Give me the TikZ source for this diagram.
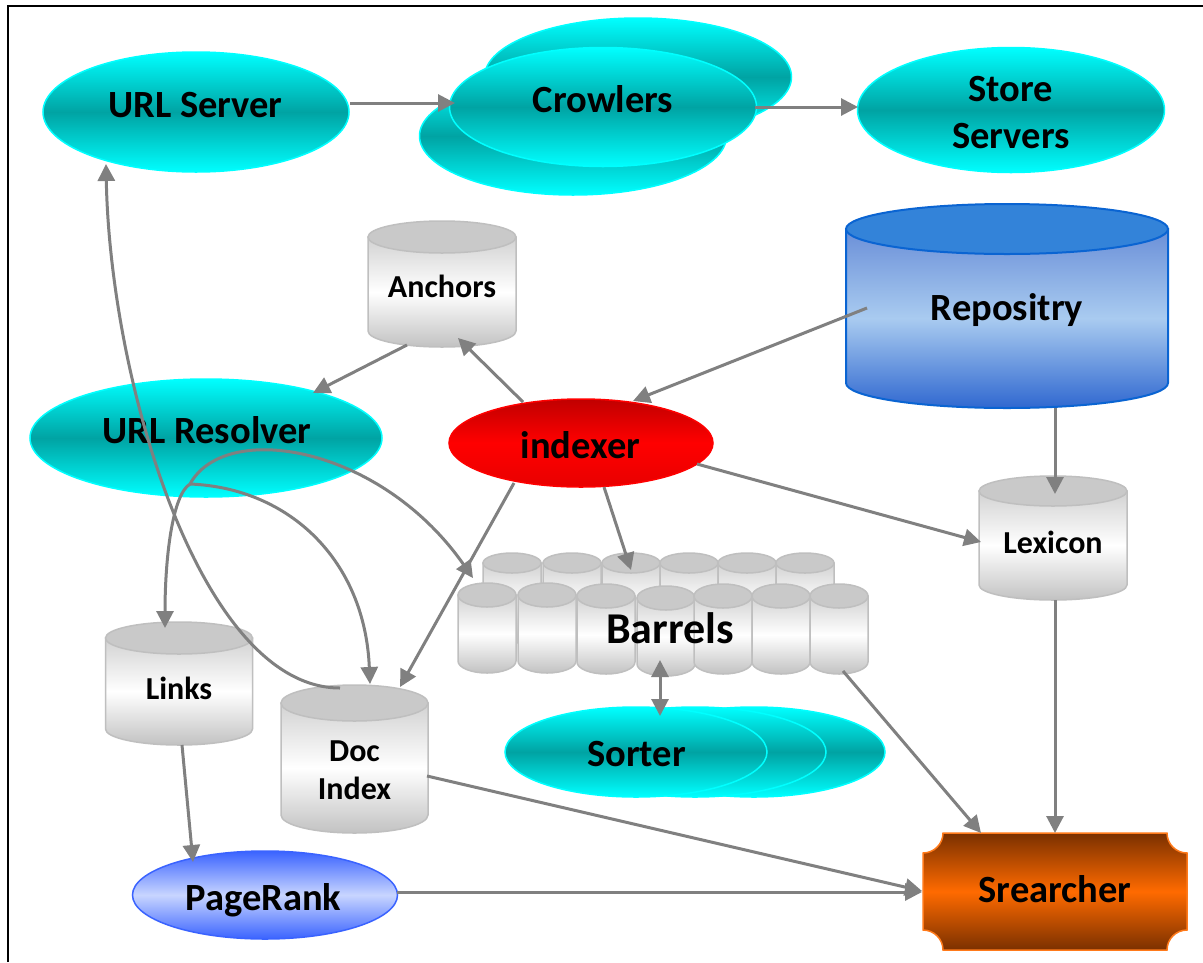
\documentclass[tikz,border=0pt]{standalone}
\usepackage{fontspec}
\setmainfont{Carlito}
\usetikzlibrary{arrows.meta,shapes.geometric,calc}

\definecolor{cyanA}{HTML}{00FFFF}
\definecolor{tealA}{HTML}{00A3A3}
\definecolor{redTop}{HTML}{C00000}
\definecolor{redMid}{HTML}{FF0000}
\definecolor{redBot}{HTML}{E80000}
\definecolor{prEdge}{HTML}{3A63FF}
\definecolor{prMid}{HTML}{C8D5FF}
\definecolor{srDark}{HTML}{7A3000}
\definecolor{srMid}{HTML}{FF6A00}
\definecolor{srBorder}{HTML}{FF7A1A}
\definecolor{repoA}{HTML}{6A8FD8}
\definecolor{repoB}{HTML}{A9CBF0}
\definecolor{repoC}{HTML}{3068D0}
\definecolor{repoTop}{HTML}{3383D9}
\definecolor{repoBorder}{HTML}{0A64D2}
\definecolor{cylBorder}{HTML}{BFBFBF}
\definecolor{cylTop}{HTML}{C9C9C9}
\definecolor{cylA}{HTML}{D2D2D2}
\definecolor{cylC}{HTML}{C2C2C2}
\definecolor{arrowGray}{HTML}{808080}

\tikzset{
  cyanell/.style={ellipse, draw=cyanA, line width=1.5pt, top color=cyanA, bottom color=cyanA, middle color=tealA, inner sep=0pt},
  redell/.style={ellipse, draw=redMid, line width=1.5pt, top color=redTop, bottom color=redBot, middle color=redMid, inner sep=0pt},
  blueell/.style={ellipse, draw=prEdge, line width=1.5pt, top color=prEdge, bottom color=prEdge, middle color=prMid, inner sep=0pt},
  graybody/.style={draw=cylBorder, line width=1.5pt, top color=cylA, bottom color=cylC, middle color=white},
  graytop/.style={draw=cylBorder, line width=1.5pt, fill=cylTop},
  repobody/.style={draw=repoBorder, line width=2pt, top color=repoA, bottom color=repoC, middle color=repoB},
  repotop/.style={draw=repoBorder, line width=2pt, fill=repoTop},
  plaque/.style={draw=srBorder, line width=1.5pt, top color=srDark, bottom color=srDark, middle color=srMid},
  conn/.style={draw=arrowGray, line width=3pt, -{Triangle[length=17pt,width=17pt]}},
  biconn/.style={draw=arrowGray, line width=3pt, {Triangle[length=17pt,width=17pt]}-{Triangle[length=17pt,width=17pt]}},
  biglbl/.style={font=\bfseries\fontsize{38.5}{46}\selectfont, anchor=base, inner sep=0pt},
  barlbl/.style={font=\bfseries\fontsize{44}{52}\selectfont, anchor=base, inner sep=0pt},
  smalllbl/.style={font=\bfseries\fontsize{32}{38}\selectfont, anchor=base, inner sep=0pt},
  holder/.style={inner sep=0pt, outer sep=0pt},
}

% #1 name, #2 cx, #3 ytop, #4 width, #5 height, #6 ry, #7 body style, #8 top style
\newcommand\drawcyl[8]{%
  \pgfmathsetmacro\cyxl{#2-#4/2}%
  \pgfmathsetmacro\cyxr{#2+#4/2}%
  \pgfmathsetmacro\cyrx{#4/2}%
  \pgfmathsetmacro\cyyt{#3+#6}%
  \pgfmathsetmacro\cyyb{#3+#5-#6}%
  \pgfmathsetmacro\cyk{0.5523*#6}%
  \pgfmathsetmacro\cykx{0.5523*#4/2}%
  \pgfmathsetmacro\cyybb{#3+#5}%
  \pgfmathsetmacro\cyymid{#3+#5/2}%
  \shade[#7] (\cyxl,\cyyt) -- (\cyxl,\cyyb) .. controls (\cyxl,\cyyb+\cyk) and (#2-\cykx,\cyybb) .. (#2,\cyybb) .. controls (#2+\cykx,\cyybb) and (\cyxr,\cyyb+\cyk) .. (\cyxr,\cyyb) -- (\cyxr,\cyyt) -- cycle;
  \filldraw[#8] (#2,\cyyt) ellipse [x radius=\cyrx, y radius=#6];
  \node[holder, minimum width=#4pt, minimum height=#5pt] (#1) at (#2,\cyymid) {};
}

\begin{document}
\begin{tikzpicture}[x=1pt,y=-1pt]
\useasboundingbox (0,0) rectangle (1203,962);
\fill[white] (0,0) rectangle (1203,962);
\draw[line width=2pt, black] (8,962) -- (8,6) -- (1203,6);

% URL Server
\node[cyanell, minimum width=306pt, minimum height=120pt] (urlserver) at (196,112) {};
\node[biglbl] (lurlserver) at (195.5,117) {URL Server};

% Crowlers
\node[cyanell, minimum width=307pt, minimum height=118pt] (crowA) at (638,77) {};
\node[cyanell, minimum width=307pt, minimum height=118pt] (crowB) at (573,136) {};
\node[cyanell, minimum width=307pt, minimum height=119pt] (crowlers) at (603,107) {};
\node[biglbl] (lcrowlers) at (603,112) {Crowlers};

% Store Servers
\node[cyanell, minimum width=307pt, minimum height=125pt] (store) at (1011,110) {};
\node[biglbl] (lstore1) at (1011,101) {Store};
\node[biglbl] (lstore2) at (1011,148) {Servers};

% Repositry
\drawcyl{repo}{1007}{204}{322}{204}{25}{repobody}{repotop}
\node[biglbl] (lrepo) at (1007,320) {Repositry};

% Anchors
\drawcyl{anchors}{442}{221}{148}{126}{16}{graybody}{graytop}
\node[smalllbl] (lanchors) at (442,297) {Anchors};

% URL Resolver
\node[cyanell, minimum width=352pt, minimum height=118pt] (urlres) at (206,438) {};
\node[biglbl] (lurlres) at (207,443) {URL Resolver};

% indexer
\node[redell, minimum width=264pt, minimum height=88pt] (indexer) at (581,443) {};
\node[biglbl] (lindexer) at (580.5,458) {indexer};

% Lexicon
\drawcyl{lexicon}{1053}{476}{148}{124}{15}{graybody}{graytop}
\node[smalllbl] (llexicon) at (1053,553) {Lexicon};

% Links
\drawcyl{links}{179}{622}{147}{123}{16}{graybody}{graytop}
\node[smalllbl] (llinks) at (179,699) {Links};

% Doc Index
\drawcyl{docidx}{354.5}{685}{147}{148}{18}{graybody}{graytop}
\node[smalllbl] (ldoc1) at (354.5,761) {Doc};
\node[smalllbl] (ldoc2) at (354.5,799) {Index};

% Barrels
\drawcyl{bb1}{512}{553}{58}{90}{10}{graybody}{graytop}
\drawcyl{bb2}{572}{553}{58}{90}{10}{graybody}{graytop}
\drawcyl{bb3}{631}{553}{58}{90}{10}{graybody}{graytop}
\drawcyl{bb4}{689}{553}{58}{90}{10}{graybody}{graytop}
\drawcyl{bb5}{747}{553}{58}{90}{10}{graybody}{graytop}
\drawcyl{bb6}{805}{553}{58}{90}{10}{graybody}{graytop}
\drawcyl{bf1}{487}{583}{58}{90}{12}{graybody}{graytop}
\drawcyl{bf2}{547}{583}{58}{90}{12}{graybody}{graytop}
\drawcyl{bf3}{606}{584}{58}{90}{12}{graybody}{graytop}
\drawcyl{bf4}{666}{586}{58}{90}{12}{graybody}{graytop}
\drawcyl{bf5}{723}{584}{58}{90}{12}{graybody}{graytop}
\drawcyl{bf6}{781}{584}{58}{90}{12}{graybody}{graytop}
\drawcyl{bf7}{839}{584}{58}{90}{12}{graybody}{graytop}
\node[holder, minimum width=410pt, minimum height=120pt] (barrels) at (663,613) {};
\node[barlbl] (lbarrels) at (670,643) {Barrels};

% Sorter
\node[cyanell, minimum width=262pt, minimum height=90pt] (sorterC) at (754,752) {};
\node[cyanell, minimum width=262pt, minimum height=90pt] (sorterB) at (695,752) {};
\node[cyanell, minimum width=262pt, minimum height=90pt] (sorter) at (636,752) {};
\node[biglbl] (lsorter) at (636.5,766) {Sorter};

% Srearcher
\shade[plaque] (943,833) -- (1167,833) .. controls (1167,844) and (1176,853) .. (1187,853)
  -- (1187,930) .. controls (1176,930) and (1167,939) .. (1167,950)
  -- (943,950) .. controls (943,939) and (934,930) .. (923,930)
  -- (923,853) .. controls (934,853) and (943,844) .. (943,833) -- cycle;
\node[holder, minimum width=264pt, minimum height=117pt] (searcher) at (1055,891.5) {};
\node[biglbl] (lsearcher) at (1055,902) {Srearcher};

% PageRank
\node[blueell, minimum width=265pt, minimum height=88pt] (pagerank) at (265,895) {};
\node[biglbl] (lpagerank) at (263.5,910) {PageRank};

% Connectors
\draw[conn] ($(urlserver.center)+(154,-9)$) -- ($(crowlers.center)+(-148,-4)$);
\draw[conn] ($(crowlers.center)+(152,0)$) -- ($(store.center)+(-153,-3)$);
\draw[conn] ($(repo.center)+(-140,2)$) -- ($(indexer.center)+(52,-42)$);
\draw[conn] ($(indexer.center)+(-58,-41)$) -- ($(anchors.center)+(16,54)$);
\draw[conn] ($(anchors.center)+(-35,61)$) -- ($(urlres.center)+(107,-45)$);
\draw[conn] ($(repo.center)+(48,102)$) -- ($(lexicon.center)+(2,-44)$);
\draw[conn] ($(indexer.center)+(116,21)$) -- ($(lexicon.center)+(-72,4)$);
\draw[conn] ($(indexer.center)+(23,44)$) -- ($(barrels.center)+(-32,-43)$);
\draw[conn] ($(indexer.center)+(-67,40)$) -- ($(docidx.center)+(45.5,-72)$);
\draw[biconn] ($(barrels.center)+(-3,47)$) -- ($(sorter.center)+(24,-36)$);
\draw[conn] ($(barrels.center)+(180,58)$) -- ($(searcher.center)+(-74,-58.5)$);
\draw[conn] ($(lexicon.center)+(2,62)$) -- ($(searcher.center)+(0,-58.5)$);
\draw[conn] ($(docidx.center)+(72.5,17)$) -- ($(searcher.center)+(-133,-0.5)$);
\draw[conn] ($(pagerank.center)+(132,-3)$) -- ($(searcher.center)+(-133,0.5)$);
\draw[conn] ($(links.center)+(3,61.5)$) -- ($(pagerank.center)+(-72,-33)$);
\draw[conn] ($(docidx.center)+(-14.5,-71)$) .. controls +(-140,0) and +(4,216) .. ($(urlserver.center)+(-90,52)$);
\draw[conn] ($(urlres.center)+(-16,46)$) .. controls +(-18,11) and +(0,-68) .. ($(links.center)+(-14,-55.5)$);
\draw[conn] ($(urlres.center)+(-16,46)$) .. controls +(100,4) and +(-5,-123) .. ($(docidx.center)+(15.5,-75)$);
\draw[conn] ($(urlres.center)+(-16,46)$) .. controls +(35,-64) and +(-93,-133) .. ($(barrels.center)+(-190,-35)$);
\end{tikzpicture}
\end{document}
